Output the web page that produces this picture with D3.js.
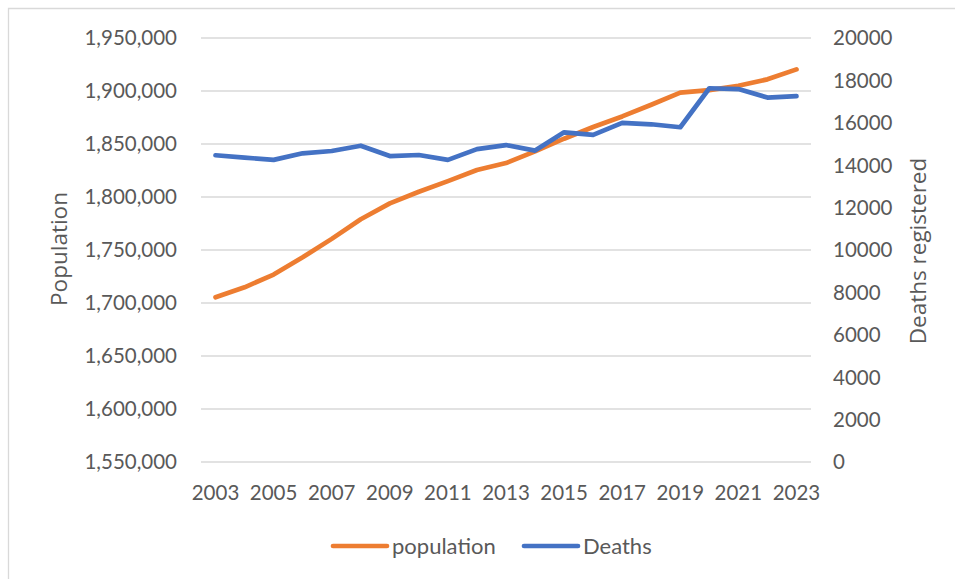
<!DOCTYPE html>
<html>
<head>
<meta charset="utf-8">
<script src="https://cdn.jsdelivr.net/npm/d3@7"></script>
<style>
  html, body { margin: 0; padding: 0; background: #ffffff; }
  svg { display: block; }
  .tick-label { font-family: Lato, "Liberation Sans", sans-serif; font-size: 20.5px; fill: #595959; }
  .axis-title { font-family: "Open Sans", "Noto Sans", sans-serif; font-size: 22.5px; fill: #595959; }
  .legend-label { font-family: Lato, "Liberation Sans", sans-serif; font-size: 22px; fill: #595959; }
</style>
</head>
<body>
<svg id="chart" width="955" height="579"></svg>
<script>
// Annual population and registered deaths, 2003–2023
const years = [2003, 2004, 2005, 2006, 2007, 2008, 2009, 2010, 2011, 2012, 2013,
               2014, 2015, 2016, 2017, 2018, 2019, 2020, 2021, 2022, 2023];
const population = [1705400, 1714800, 1726800, 1743100, 1760500, 1779000, 1794000,
                    1805000, 1815000, 1825500, 1832000, 1843000, 1855000, 1866000,
                    1876000, 1887000, 1898400, 1900800, 1905000, 1911000, 1920400];
const deaths = [14470, 14360, 14250, 14560, 14670, 14920, 14430, 14480, 14250, 14760,
                14950, 14690, 15550, 15430, 16000, 15930, 15790, 17630, 17590, 17190, 17260];
const leftTicks = [1550000, 1600000, 1650000, 1700000, 1750000, 1800000, 1850000, 1900000, 1950000];
const rightTicks = [0, 2000, 4000, 6000, 8000, 10000, 12000, 14000, 16000, 18000, 20000];
const yearLabels = [2003, 2005, 2007, 2009, 2011, 2013, 2015, 2017, 2019, 2021, 2023];

const svg = d3.select("#chart");
const plot = { left: 201, right: 811, top: 38, bottom: 462 };
const colors = { population: "#ED7D31", deaths: "#4472C4" };

// outer frame (top and left edges visible)
svg.append("path")
  .attr("d", "M8.5,579 L8.5,8.5 L955,8.5")
  .attr("fill", "none").attr("stroke", "#d9d9d9").attr("stroke-width", 1.3);

const x = d3.scalePoint().domain(years).range([plot.left, plot.right]).padding(0.5);
const yLeft = d3.scaleLinear().domain([1550000, 1950000]).range([plot.bottom, plot.top]);
const yRight = d3.scaleLinear().domain([0, 20000]).range([plot.bottom, plot.top]);

// horizontal gridlines
svg.append("g").selectAll("line").data(leftTicks).join("line")
  .attr("x1", plot.left).attr("x2", plot.right)
  .attr("y1", d => yLeft(d)).attr("y2", d => yLeft(d))
  .attr("stroke", "#d9d9d9").attr("stroke-width", 1.3);

// left axis labels
const fmtPop = d3.format(",");
svg.append("g").selectAll("text").data(leftTicks).join("text")
  .attr("class", "tick-label")
  .attr("x", 177).attr("y", d => yLeft(d)).attr("dy", "0.36em")
  .attr("text-anchor", "end")
  .text(d => fmtPop(d));

// right axis labels
svg.append("g").selectAll("text").data(rightTicks).join("text")
  .attr("class", "tick-label")
  .attr("x", 833).attr("y", d => yRight(d)).attr("dy", "0.36em")
  .attr("text-anchor", "start")
  .text(d => String(d));

// year labels
svg.append("g").selectAll("text").data(yearLabels).join("text")
  .attr("class", "tick-label")
  .attr("x", d => x(d)).attr("y", 493).attr("dy", "0.36em")
  .attr("text-anchor", "middle")
  .text(d => String(d));

// axis titles
svg.append("text").attr("class", "axis-title")
  .attr("transform", "translate(59,249) rotate(-90)")
  .attr("text-anchor", "middle").attr("dy", "0.36em")
  .text("Population");
svg.append("text").attr("class", "axis-title")
  .attr("transform", "translate(918,251) rotate(-90)")
  .attr("text-anchor", "middle").attr("dy", "0.36em")
  .text("Deaths registered");

// series lines
const popLine = d3.line().x((d, i) => x(years[i])).y(d => yLeft(d));
const deathLine = d3.line().x((d, i) => x(years[i])).y(d => yRight(d));

svg.append("path").datum(population)
  .attr("d", popLine)
  .attr("fill", "none").attr("stroke", colors.population)
  .attr("stroke-width", 4.7).attr("stroke-linecap", "round").attr("stroke-linejoin", "round");

svg.append("path").datum(deaths)
  .attr("d", deathLine)
  .attr("fill", "none").attr("stroke", colors.deaths)
  .attr("stroke-width", 4.7).attr("stroke-linecap", "round").attr("stroke-linejoin", "round");

// legend
const legendItems = [
  { name: "population", color: colors.population, x: 333 },
  { name: "Deaths", color: colors.deaths, x: 524 }
];
const lg = svg.append("g").selectAll("g").data(legendItems).join("g")
  .attr("transform", d => `translate(${d.x},546)`);
lg.append("line").attr("x1", 0).attr("x2", 54).attr("y1", 0).attr("y2", 0)
  .attr("stroke", d => d.color).attr("stroke-width", 4.7).attr("stroke-linecap", "round");
lg.append("text").attr("class", "legend-label")
  .attr("x", 59).attr("y", 0).attr("dy", "0.36em")
  .text(d => d.name);
</script>
</body>
</html>
